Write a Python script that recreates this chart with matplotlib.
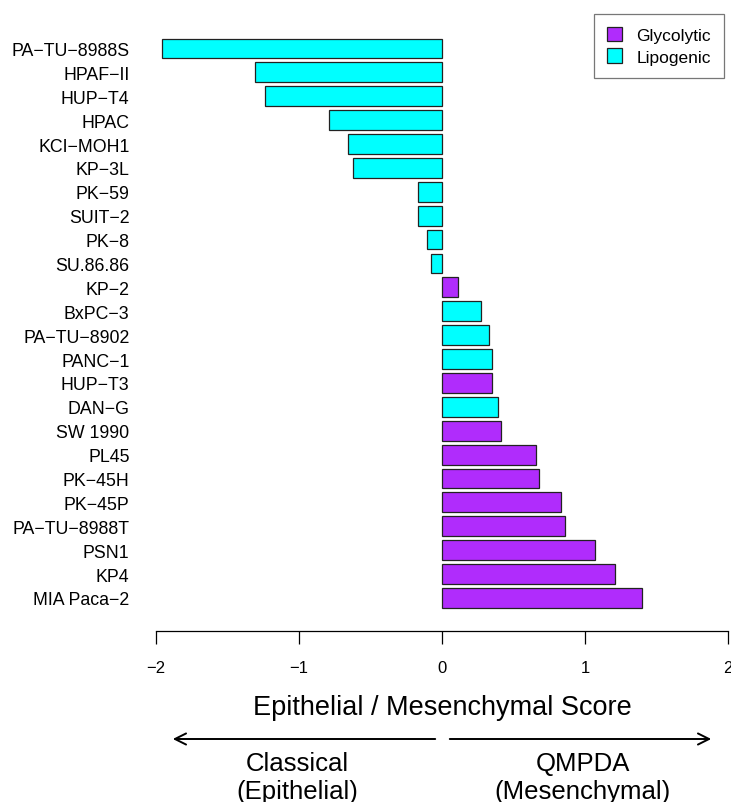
import matplotlib
matplotlib.use("Agg")
import matplotlib.pyplot as plt
from matplotlib.patches import Patch, FancyArrowPatch

plt.rcParams['font.family'] = ['Liberation Sans', 'DejaVu Sans']

# cell lines, top to bottom
cell_lines = [
    "PA\u2212TU\u22128988S", "HPAF\u2212II", "HUP\u2212T4", "HPAC", "KCI\u2212MOH1",
    "KP\u22123L", "PK\u221259", "SUIT\u22122", "PK\u22128", "SU.86.86", "KP\u22122",
    "BxPC\u22123", "PA\u2212TU\u22128902", "PANC\u22121", "HUP\u2212T3", "DAN\u2212G",
    "SW 1990", "PL45", "PK\u221245H", "PK\u221245P", "PA\u2212TU\u22128988T", "PSN1",
    "KP4", "MIA Paca\u22122",
]
scores = [
    -1.96, -1.31, -1.24, -0.79, -0.66, -0.62, -0.17, -0.165, -0.105, -0.077,
    0.11, 0.27, 0.33, 0.35, 0.35, 0.39, 0.41, 0.66, 0.68, 0.83, 0.86, 1.07,
    1.21, 1.40,
]
groups = [
    "Lipogenic", "Lipogenic", "Lipogenic", "Lipogenic", "Lipogenic", "Lipogenic",
    "Lipogenic", "Lipogenic", "Lipogenic", "Lipogenic", "Glycolytic",
    "Lipogenic", "Lipogenic", "Lipogenic", "Glycolytic", "Lipogenic",
    "Glycolytic", "Glycolytic", "Glycolytic", "Glycolytic", "Glycolytic",
    "Glycolytic", "Glycolytic", "Glycolytic",
]
xticks = [-2, -1, 0, 1, 2]
colors = {"Glycolytic": "#b02cfc", "Lipogenic": "#00ffff"}

fig = plt.figure(figsize=(7.31, 8.03), dpi=100)
ax = fig.add_axes([0.2134, 0.213, 0.7825, 0.743])

n = len(cell_lines)
ypos = [n - 1 - i for i in range(n)]
ax.barh(ypos, scores, height=0.83,
        color=[colors[g] for g in groups],
        edgecolor="#222222", linewidth=0.9)

ax.set_xlim(-2, 2)
ax.set_ylim(-1.38, n - 1 + 0.59)
ax.set_yticks(ypos)
ax.set_yticklabels(cell_lines, fontsize=12.8)
ax.tick_params(axis="y", length=0, pad=19)

ax.set_xticks(xticks)
ax.set_xticklabels([str(t).replace("-", "\u2212") for t in xticks], fontsize=12)
ax.tick_params(axis="x", length=9, width=0.9, pad=12)

for s in ["left", "right", "top"]:
    ax.spines[s].set_visible(False)
ax.spines["bottom"].set_bounds(-2, 2)
ax.spines["bottom"].set_linewidth(0.9)

# legend
handles = [Patch(facecolor=colors[k], edgecolor="#222222", linewidth=0.9, label=k)
           for k in ["Glycolytic", "Lipogenic"]]
leg = fig.legend(handles=handles, loc="upper right",
                 bbox_to_anchor=(724 / 731, 1 - 15 / 803), borderaxespad=0,
                 fontsize=12.5, fancybox=False, frameon=True,
                 handlelength=0.9, handleheight=0.9, handletextpad=0.8,
                 borderpad=0.75, labelspacing=0.3)
leg.get_frame().set_edgecolor("#555555")
leg.get_frame().set_linewidth(0.9)

# axis label and direction arrows
fig.text(442 / 731, 1 - 708 / 803, "Epithelial / Mesenchymal Score",
         ha="center", va="center", fontsize=19.5)
ay = 803 - 740
fig.add_artist(FancyArrowPatch(
    (438, ay), (170, ay), transform=None, arrowstyle="->,head_length=8,head_width=4",
    color="black", linewidth=1.4))
fig.add_artist(FancyArrowPatch(
    (447, ay), (714, ay), transform=None, arrowstyle="->,head_length=8,head_width=4",
    color="black", linewidth=1.4))
fig.text(297 / 731, 1 - 778 / 803, "Classical\n(Epithelial)",
         ha="center", va="center", fontsize=18.5, linespacing=1.25)
fig.text(583 / 731, 1 - 778 / 803, "QMPDA\n(Mesenchymal)",
         ha="center", va="center", fontsize=18.5, linespacing=1.25)

fig.savefig("out.png", dpi=100)
